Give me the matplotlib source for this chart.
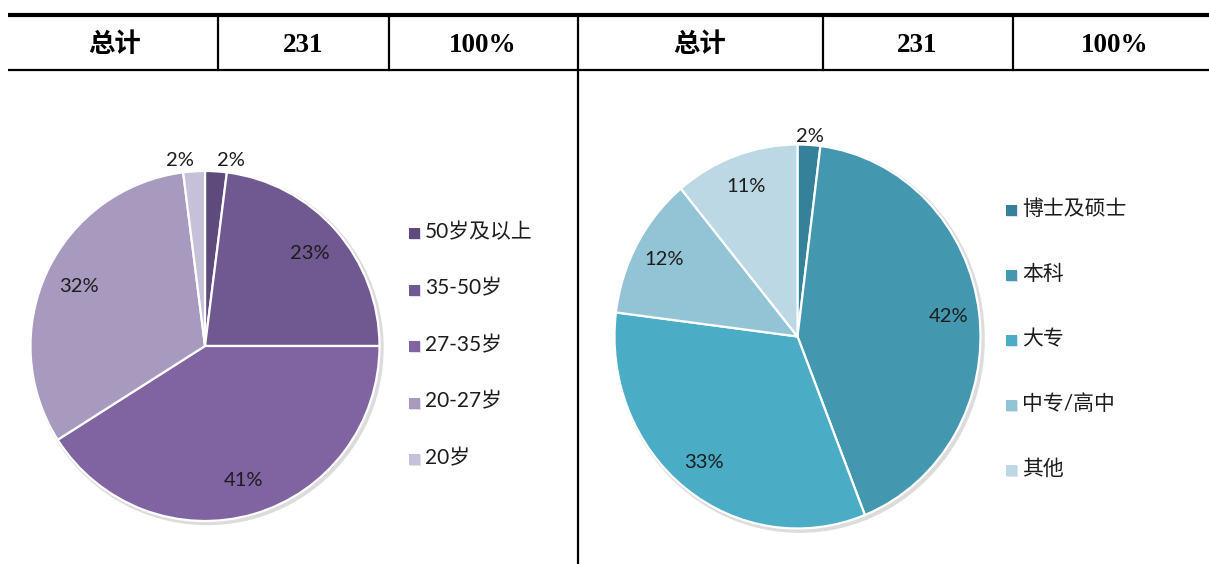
import matplotlib
matplotlib.use("Agg")
import matplotlib.pyplot as plt
from matplotlib.patches import Rectangle, Circle
import numpy as np

# ---------------- data ----------------
header_cells = ["总计", "231", "100%"]

age_labels = ["50岁及以上", "35-50岁", "27-35岁", "20-27岁", "20岁"]
age_values = [2, 23, 41, 32, 2]
age_colors = ["#5f4a7d", "#705890", "#8064a2", "#a899be", "#c7c0d9"]

edu_labels = ["博士及硕士", "本科", "大专", "中专/高中", "其他"]
edu_values = [2, 42, 33, 12, 11]
edu_colors = ["#35819a", "#4398b0", "#4bacc6", "#93c4d6", "#bcd8e4"]

W, H = 1209, 564
fig = plt.figure(figsize=(W / 100, H / 100), dpi=100)

# background axes in pixel coordinates
bg = fig.add_axes([0, 0, 1, 1])
bg.set_xlim(0, W)
bg.set_ylim(H, 0)
bg.axis("off")

# ---- header table ----
top_y, bot_y = 15, 70
bg.plot([8, W], [top_y, top_y], color="black", lw=3.0, solid_capstyle="butt")
bg.plot([8, W], [bot_y, bot_y], color="black", lw=1.6, solid_capstyle="butt")
for x in [218, 389, 823, 1013]:
    bg.plot([x, x], [top_y, bot_y], color="black", lw=1.6)
bg.plot([578, 578], [top_y, H], color="black", lw=1.6)

cjk_bold = ["Noto Sans CJK SC"]
serif = ["Liberation Serif"]
cell_x = [[115, 303, 483], [700, 917, 1115]]
for row in cell_x:
    for i, (x, txt) in enumerate(zip(row, header_cells)):
        if i == 0:
            bg.text(x, 44, txt, ha="center", va="center", fontsize=19,
                    fontweight="bold", family=cjk_bold)
        else:
            bg.text(x, 45, txt, ha="center", va="center", fontsize=19.5,
                    fontweight="bold", family=serif)

fam = ["Lato", "Noto Sans CJK SC", "DejaVu Sans"]
txtcol = "#1c1c1c"


def make_pie(cx, cy, rx, ry, values, colors, pctd, outd, split_small):
    m = 1.12
    hx, hy = rx * m, ry * m
    ax = fig.add_axes([(cx - hx) / W, (H - cy - hy) / H, 2 * hx / W, 2 * hy / H])
    # soft shadow ring
    ax.add_patch(Circle((0.012, -0.012), 1.0, facecolor="none",
                        edgecolor="#dcdcdc", lw=3, zorder=0))
    wedges, _, autotexts = ax.pie(
        values, colors=colors, startangle=90, counterclock=False,
        autopct="%d%%", pctdistance=pctd,
        wedgeprops=dict(edgecolor="white", linewidth=1.6),
        textprops=dict(fontsize=14.5, color=txtcol, family=fam))
    for w, t in zip(wedges, autotexts):
        if w.theta2 - w.theta1 < 15:
            ang = np.deg2rad((w.theta1 + w.theta2) / 2)
            x, y = outd * np.cos(ang), outd * np.sin(ang)
            t.set_position((x, y))
            if split_small:
                t.set_ha("left" if x > 0 else "right")
    ax.set_aspect("auto")
    ax.set_xlim(-m, m)
    ax.set_ylim(-m, m)
    ax.axis("off")
    return ax


make_pie(205, 346, 174.5, 175, age_values, age_colors, 0.80, 1.06, True)
make_pie(797.5, 336.5, 183, 192, edu_values, edu_colors, 0.83, 1.045, False)


def legend(x_sq, x_txt, y0, dy, labels, colors):
    for i, (lab, c) in enumerate(zip(labels, colors)):
        y = y0 + i * dy
        bg.add_patch(Rectangle((x_sq + 1, y - 3), 11, 11, facecolor="#dde3ea",
                               edgecolor="none"))
        bg.add_patch(Rectangle((x_sq, y - 4), 11, 11, facecolor=c,
                               edgecolor="none"))
        bg.text(x_txt, y, lab, ha="left", va="center", fontsize=15,
                color=txtcol, family=fam)


legend(409, 425, 232, 56.5, age_labels, age_colors)
legend(1006, 1022, 209, 65, edu_labels, edu_colors)

fig.savefig("out.png", dpi=100)
